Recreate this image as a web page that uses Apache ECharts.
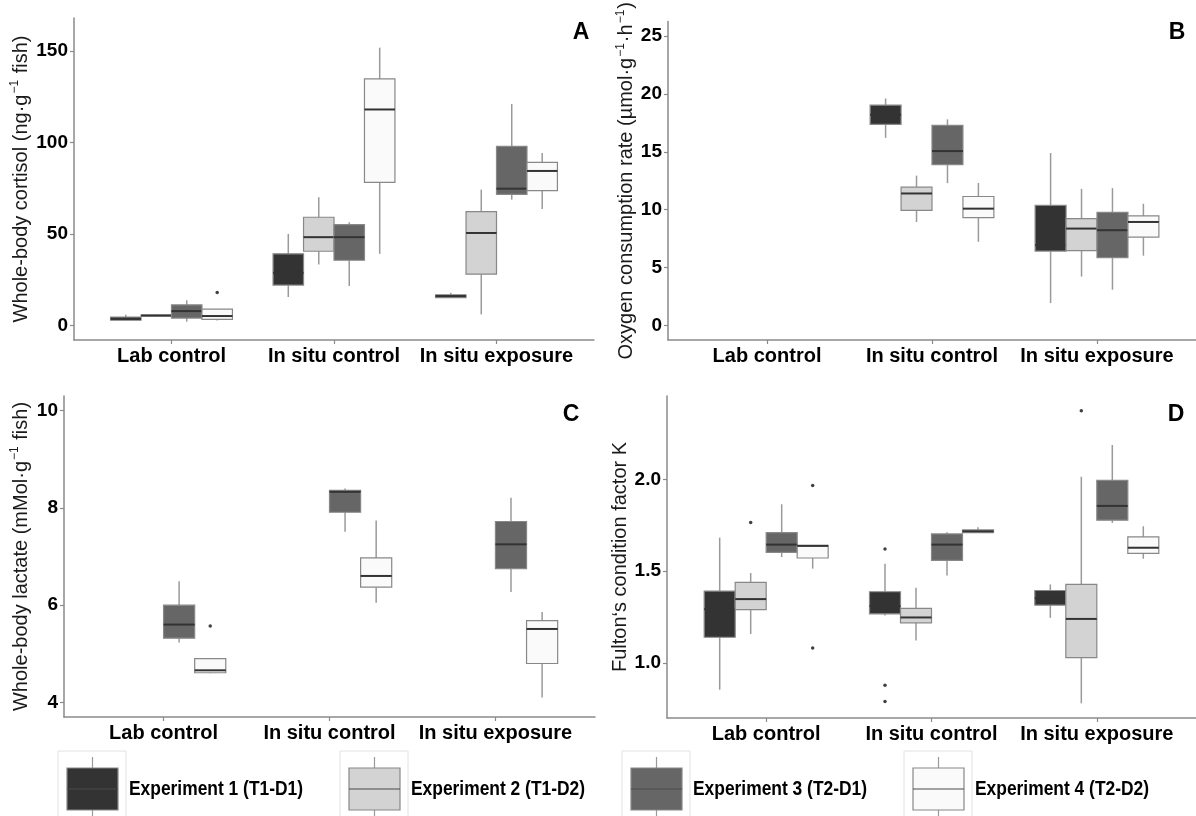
<!DOCTYPE html>
<html>
<head>
<meta charset="utf-8">
<script src="https://cdn.jsdelivr.net/npm/echarts@6/dist/echarts.min.js"></script>
<style>
  html, body { margin: 0; padding: 0; background: #ffffff; }
  #chart { width: 1196px; height: 816px; }
</style>
</head>
<body>
<div id="chart"></div>
<script>
// ---- data ---------------------------------------------------------------
const categories = ['Lab control', 'In situ control', 'In situ exposure'];
const experiments = ['Experiment 1 (T1-D1)', 'Experiment 2 (T1-D2)', 'Experiment 3 (T2-D1)', 'Experiment 4 (T2-D2)'];

// Box statistics per category, [min, Q1, median, Q3, max]; null = not measured
const cortisolE1 = [[2.6, 2.8, 3.6, 4.5, 5.8], [15.5, 22.0, 28.7, 39.1, 50.0], [15.1, 15.2, 16.0, 16.7, 17.8]];
const cortisolE2 = [[5.0, 5.2, 5.4, 5.6, 5.9], [33.3, 40.5, 48.2, 59.1, 70.0], [6.0, 28.0, 50.5, 62.2, 74.2]];
const cortisolE3 = [[2.0, 4.0, 7.8, 11.2, 13.7], [21.5, 35.6, 48.2, 55.1, 56.4], [68.7, 71.6, 74.7, 97.8, 121.0]];
const cortisolE4 = [[2.7, 3.3, 5.1, 8.9, 8.9], [39.1, 78.2, 118.0, 134.7, 151.8], [63.6, 73.6, 84.4, 89.1, 94.2]];
const cortisolOutliers = [[0, 3, 17.9]]; // [category, experiment, value]
const cortisolTicks = [0, 50, 100, 150];

const oxygenE1 = [null, [16.2, 17.37, 18.2, 19.03, 19.6], [1.94, 6.43, 6.94, 10.37, 14.89]];
const oxygenE2 = [null, [8.94, 9.94, 11.4, 11.94, 12.94], [4.23, 6.46, 8.37, 9.23, 11.8]];
const oxygenE3 = [null, [12.29, 13.89, 15.06, 17.29, 17.8], [3.09, 5.86, 8.23, 9.77, 11.86]];
const oxygenE4 = [null, [7.23, 9.31, 10.09, 11.14, 12.31], [6.03, 7.63, 8.94, 9.46, 10.51]];
const oxygenOutliers = [];
const oxygenTicks = [0, 5, 10, 15, 20, 25];

const lactateE1 = [null, null, null];
const lactateE2 = [null, null, null];
const lactateE3 = [[5.23, 5.32, 5.60, 6.00, 6.49], [7.51, 7.91, 8.33, 8.36, 8.40], [6.27, 6.75, 7.25, 7.72, 8.21]];
const lactateE4 = [[4.60, 4.61, 4.66, 4.90, 4.90], [6.05, 6.37, 6.60, 6.97, 7.74], [4.10, 4.80, 5.51, 5.68, 5.86]];
const lactateOutliers = [[0, 3, 5.57]];
const lactateTicks = [4, 6, 8, 10];

const conditionE1 = [[0.854, 1.140, 1.293, 1.392, 1.683], [1.259, 1.268, 1.310, 1.388, 1.541], [1.246, 1.315, 1.353, 1.395, 1.428]];
const conditionE2 = [[1.158, 1.291, 1.348, 1.439, 1.490], [1.122, 1.219, 1.248, 1.297, 1.410], [0.780, 1.029, 1.240, 1.428, 2.015]];
const conditionE3 = [[1.577, 1.603, 1.645, 1.710, 1.865], [1.477, 1.559, 1.645, 1.703, 1.712], [1.763, 1.778, 1.856, 1.995, 2.188]];
const conditionE4 = [[1.514, 1.572, 1.638, 1.641, 1.641], [1.710, 1.710, 1.718, 1.725, 1.740], [1.568, 1.597, 1.628, 1.687, 1.745]];
const conditionOutliers = [[0, 1, 1.765], [0, 3, 1.967], [0, 3, 1.082], [1, 0, 1.621], [1, 0, 0.878], [1, 0, 0.790], [2, 1, 2.375]];
const conditionTicks = [1.0, 1.5, 2.0];

// ---- styling ------------------------------------------------------------
const FONT = '"Liberation Sans", Arial, Helvetica, sans-serif';
const fills = ['#333333', '#d3d3d3', '#666666', '#fafafa'];
const AXIS_COLOR = '#8a8a8a';
const SLOT = 0.75 / 4; // dodged box width in category units

const panels = [
  { letter: 'A', stats: [cortisolE1, cortisolE2, cortisolE3, cortisolE4], outliers: cortisolOutliers,
    ticks: cortisolTicks, min: -8, max: 168, digits: 0,
    name: '{n|Whole-body cortisol (ng·g}{s|−1}{n| fish)}', nameGap: 41,
    grid: { left: 74, top: 18, width: 520, height: 322 }, letterPos: [581, 33] },
  { letter: 'B', stats: [oxygenE1, oxygenE2, oxygenE3, oxygenE4], outliers: oxygenOutliers,
    ticks: oxygenTicks, min: -1.25, max: 26.25, digits: 0,
    name: '{n|Oxygen consumption rate (µmol·g}{s|−1}{n|·h}{s|−1}{n|)}', nameGap: 27,
    grid: { left: 668, top: 18, width: 534, height: 322 }, letterPos: [1177, 33] },
  { letter: 'C', stats: [lactateE1, lactateE2, lactateE3, lactateE4], outliers: lactateOutliers,
    ticks: lactateTicks, min: 3.7, max: 10.3, digits: 0,
    name: '{n|Whole-body lactate (mMol·g}{s|−1}{n| fish)}', nameGap: 31,
    grid: { left: 64, top: 396, width: 531, height: 321 }, letterPos: [571, 415] },
  { letter: 'D', stats: [conditionE1, conditionE2, conditionE3, conditionE4], outliers: conditionOutliers,
    ticks: conditionTicks, min: 0.70, max: 2.455, digits: 1,
    name: '{n|Fulton‘s condition factor K}', nameGap: 35,
    grid: { left: 667, top: 396, width: 538, height: 322 }, letterPos: [1176, 415] }
];

// x position of a box: category position (1..3) shifted into its dodge slot
function slotX(catPos, exp) {
  return catPos - 0.375 + SLOT * (exp + 0.5);
}

function boxRenderer(exp) {
  return function (params, api) {
    const x = slotX(api.value(0), exp);
    const half = api.size([SLOT, 0])[0] / 2;
    const pMin = api.coord([x, api.value(1)]);
    const pQ1 = api.coord([x, api.value(2)]);
    const pMed = api.coord([x, api.value(3)]);
    const pQ3 = api.coord([x, api.value(4)]);
    const pMax = api.coord([x, api.value(5)]);
    const cx = pMed[0];
    const whisker = { stroke: '#9a9a9a', lineWidth: 1.5 };
    return {
      type: 'group',
      children: [
        { type: 'line', shape: { x1: cx, y1: pQ3[1], x2: cx, y2: pMax[1] }, style: whisker },
        { type: 'line', shape: { x1: cx, y1: pQ1[1], x2: cx, y2: pMin[1] }, style: whisker },
        { type: 'rect', shape: { x: cx - half, y: pQ3[1], width: 2 * half, height: Math.max(pQ1[1] - pQ3[1], 1) },
          style: { fill: fills[exp], stroke: '#888888', lineWidth: 1.2 } },
        { type: 'line', shape: { x1: cx - half, y1: pMed[1], x2: cx + half, y2: pMed[1] },
          style: { stroke: '#333333', lineWidth: 2 } }
      ]
    };
  };
}

const grids = [], xAxes = [], yAxes = [], series = [], graphics = [];

panels.forEach((p, i) => {
  grids.push(p.grid);

  xAxes.push({
    type: 'value', gridIndex: i, min: 0.4, max: 3.6,
    axisLine: { show: true, onZero: false, lineStyle: { color: AXIS_COLOR, width: 1.5 } },
    axisTick: { show: true, length: 4, customValues: [1, 2, 3], lineStyle: { color: AXIS_COLOR, width: 1.2 } },
    axisLabel: {
      customValues: [1, 2, 3], margin: 6,
      formatter: v => categories[Math.round(v) - 1] || '',
      fontSize: 20, fontWeight: 'bold', color: '#000', fontFamily: FONT
    },
    splitLine: { show: false }
  });

  yAxes.push({
    type: 'value', gridIndex: i, min: p.min, max: p.max,
    axisLine: { show: true, onZero: false, lineStyle: { color: AXIS_COLOR, width: 1.5 } },
    axisTick: { show: true, length: 4, customValues: p.ticks, lineStyle: { color: AXIS_COLOR, width: 1.2 } },
    axisLabel: {
      customValues: p.ticks, margin: 6,
      formatter: v => Number(v).toFixed(p.digits),
      fontSize: 19, fontWeight: 'bold', color: '#000', fontFamily: FONT
    },
    splitLine: { show: false },
    name: p.name, nameLocation: 'middle', nameGap: p.nameGap,
    nameTextStyle: {
      fontFamily: FONT, color: '#1a1a1a', fontSize: 20,
      rich: {
        n: { fontSize: 20, fontFamily: FONT, color: '#1a1a1a', lineHeight: 24 },
        s: { fontSize: 12, fontFamily: FONT, color: '#1a1a1a', verticalAlign: 'top', lineHeight: 24, padding: [0, 1, 0, 1] }
      }
    }
  });

  p.stats.forEach((rows, e) => {
    const data = [];
    rows.forEach((s, c) => { if (s) data.push([c + 1].concat(s)); });
    series.push({
      type: 'custom', name: experiments[e], xAxisIndex: i, yAxisIndex: i,
      renderItem: boxRenderer(e),
      encode: { x: 0, y: [1, 2, 3, 4, 5] },
      data: data, z: 2
    });
  });

  series.push({
    type: 'scatter', name: 'outliers ' + p.letter, xAxisIndex: i, yAxisIndex: i,
    symbol: 'circle', symbolSize: 3.5, itemStyle: { color: '#111' }, z: 3,
    data: p.outliers.map(o => [slotX(o[0] + 1, o[1]), o[2]])
  });

  graphics.push({
    type: 'text', x: p.letterPos[0], y: p.letterPos[1],
    style: { text: p.letter, fontSize: 23, fontWeight: 'bold', fontFamily: FONT, fill: '#000',
             align: 'center', verticalAlign: 'middle' }
  });
});

// legend keys: frame, whiskers, box, median and label
experiments.forEach((label, e) => {
  const x0 = 58 + e * 282;
  const cx = x0 + 34.5;
  graphics.push(
    { type: 'rect', shape: { x: x0, y: 751, width: 68, height: 80 }, style: { fill: '#ffffff', stroke: '#e2e2e2', lineWidth: 1 } },
    { type: 'line', shape: { x1: cx, y1: 757, x2: cx, y2: 768 }, style: { stroke: '#9a9a9a', lineWidth: 1.2 } },
    { type: 'line', shape: { x1: cx, y1: 810, x2: cx, y2: 821 }, style: { stroke: '#9a9a9a', lineWidth: 1.2 } },
    { type: 'rect', shape: { x: x0 + 9, y: 768, width: 51, height: 42 }, style: { fill: fills[e], stroke: '#888888', lineWidth: 1.2 } },
    { type: 'line', shape: { x1: x0 + 9, y1: 789, x2: x0 + 60, y2: 789 }, style: { stroke: '#4a4a4a', lineWidth: 1.2 } },
    { type: 'text', x: x0 + 71, y: 789, scaleX: 0.87,
      style: { text: label, fontSize: 20, fontWeight: 'bold', fontFamily: FONT, fill: '#000', align: 'left', verticalAlign: 'middle' } }
  );
});

const chart = echarts.init(document.getElementById('chart'), null, { renderer: 'canvas' });
chart.setOption({
  animation: false,
  backgroundColor: '#ffffff',
  grid: grids,
  xAxis: xAxes,
  yAxis: yAxes,
  series: series,
  graphic: graphics
});
</script>
</body>
</html>
